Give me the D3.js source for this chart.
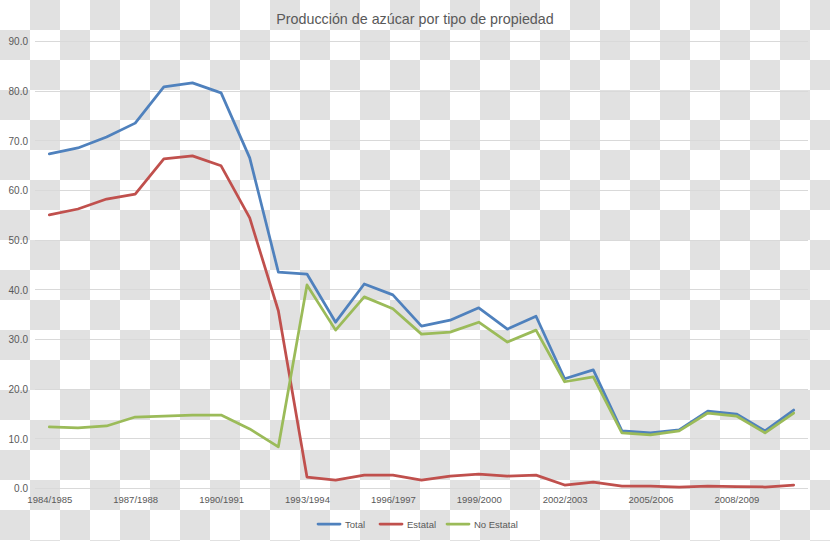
<!DOCTYPE html>
<html>
<head>
<meta charset="utf-8">
<script src="https://cdn.jsdelivr.net/npm/d3@7"></script>
<style>
  html, body { margin: 0; padding: 0; background: #fff; }
  svg { display: block; }
  text { font-family: "Liberation Sans", "DejaVu Sans", sans-serif; }
</style>
</head>
<body>
<svg id="chart" width="830" height="541"></svg>
<script>
const categories = ["1984/1985","1985/1986","1986/1987","1987/1988","1988/1989","1989/1990","1990/1991","1991/1992","1992/1993","1993/1994","1994/1995","1995/1996","1996/1997","1997/1998","1998/1999","1999/2000","2000/2001","2001/2002","2002/2003","2003/2004","2004/2005","2005/2006","2006/2007","2007/2008","2008/2009","2009/2010","2010/2011"];
const total = [67.4,68.6,70.8,73.6,80.9,81.7,79.7,66.6,43.6,43.2,33.5,41.2,39.0,32.7,33.9,36.4,32.1,34.7,22.1,23.9,11.6,11.2,11.8,15.6,15.0,11.6,15.8];
const estatal = [55.1,56.3,58.3,59.3,66.4,67.0,65.0,54.5,35.8,2.3,1.7,2.7,2.7,1.7,2.5,2.9,2.5,2.7,0.7,1.3,0.5,0.5,0.3,0.5,0.4,0.3,0.7];
const noEstatal = [12.4,12.2,12.6,14.4,14.6,14.8,14.8,12.0,8.4,41.0,31.9,38.6,36.2,31.1,31.5,33.5,29.5,31.9,21.5,22.5,11.2,10.8,11.6,15.2,14.6,11.2,15.2];
const seriesNames = ["Total","Estatal","No Estatal"];
const seriesColors = ["#4F81BD","#C0504D","#9BBB59"];
const yTicks = [0,10,20,30,40,50,60,70,80,90];
const xLabelEvery = 3;
const title = "Producción de azúcar por tipo de propiedad";

const W = 830, H = 541;
const svg = d3.select("#chart");

// checkerboard background
const defs = svg.append("defs");
const pat = defs.append("pattern").attr("id","chk").attr("width",60).attr("height",60).attr("patternUnits","userSpaceOnUse");
pat.append("rect").attr("width",60).attr("height",60).attr("fill","#ffffff");
pat.append("rect").attr("x",30).attr("y",0).attr("width",30).attr("height",30).attr("fill","#e1e1e1");
pat.append("rect").attr("x",0).attr("y",30).attr("width",30).attr("height",30).attr("fill","#e1e1e1");
svg.append("rect").attr("width",W).attr("height",H).attr("fill","url(#chk)");

const plot = {left: 35, right: 808, top: 41.7, bottom: 488.5};
const x = d3.scalePoint().domain(categories).range([plot.left, plot.right]).padding(0.5);
const y = d3.scaleLinear().domain([0, 90]).range([plot.bottom, plot.top]);

// gridlines
svg.append("g").selectAll("line").data(yTicks).join("line")
  .attr("x1", plot.left).attr("x2", plot.right)
  .attr("y1", d => y(d)).attr("y2", d => y(d))
  .attr("stroke", "#d9d9d9").attr("stroke-width", 1).attr("shape-rendering","crispEdges");

// y axis labels
const yAxis = d3.axisLeft(y).tickValues(yTicks).tickFormat(d3.format(".1f")).tickSize(0).tickPadding(7);
const gy = svg.append("g").attr("transform", `translate(${plot.left},0)`).call(yAxis);
gy.select(".domain").remove();
gy.selectAll("text").attr("fill","#595959").style("font-size","10px").style("font-family","Liberation Sans, sans-serif");

// x axis labels
const xAxis = d3.axisBottom(x).tickValues(categories.filter((d,i) => i % xLabelEvery === 0)).tickSize(0).tickPadding(8);
const gx = svg.append("g").attr("transform", `translate(0,${plot.bottom})`).call(xAxis);
gx.select(".domain").remove();
gx.selectAll("text").attr("fill","#595959").style("font-size","9.5px").style("font-family","Liberation Sans, sans-serif");

// lines
const seriesData = [total, estatal, noEstatal];
const line = d3.line().x((d,i) => x(categories[i])).y(d => y(d));
svg.append("g").selectAll("path").data(seriesData).join("path")
  .attr("d", d => line(d))
  .attr("fill","none")
  .attr("stroke", (d,i) => seriesColors[i])
  .attr("stroke-width", 2.75)
  .attr("stroke-linejoin","round")
  .attr("stroke-linecap","round");

// title
svg.append("text").attr("x", 415).attr("y", 24).attr("text-anchor","middle")
  .attr("fill","#595959").style("font-size","14.3px").text(title);

// legend
const legendX = [318, 380, 447];
const lg = svg.append("g").selectAll("g").data(seriesNames).join("g")
  .attr("transform", (d,i) => `translate(${legendX[i]},524)`);
lg.append("line").attr("x1",0).attr("x2",22).attr("y1",0).attr("y2",0)
  .attr("stroke",(d,i)=>seriesColors[i]).attr("stroke-width",2.75).attr("stroke-linecap","round");
lg.append("text").attr("x",27).attr("y",3.5).attr("fill","#595959").style("font-size","9.5px").text(d=>d);
</script>
</body>
</html>
